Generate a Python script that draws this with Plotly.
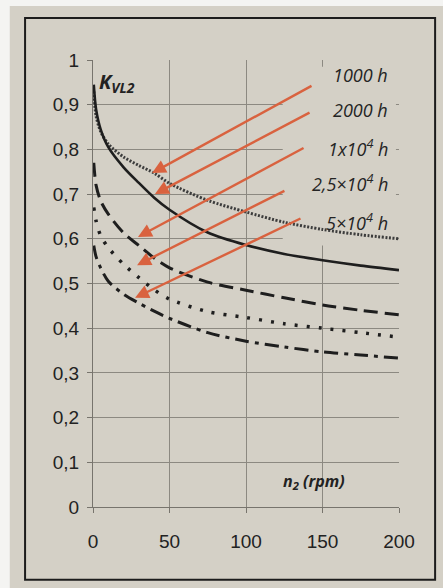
import plotly.graph_objects as go

# ---- data ----
n_rpm = [0.5, 2, 5, 10, 20, 30, 40, 50, 75, 100, 125, 150, 175, 200]

k_1000h = [0.93, 0.875, 0.84, 0.812, 0.783, 0.764, 0.747, 0.724, 0.686, 0.66, 0.637, 0.621, 0.609, 0.60]
k_2000h = [0.945, 0.89, 0.845, 0.805, 0.76, 0.725, 0.692, 0.665, 0.614, 0.586, 0.566, 0.552, 0.54, 0.53]
k_1e4h = [0.77, 0.72, 0.685, 0.655, 0.613, 0.585, 0.557, 0.535, 0.503, 0.485, 0.468, 0.452, 0.44, 0.43]
k_25e4h = [0.67, 0.64, 0.607, 0.58, 0.543, 0.513, 0.486, 0.465, 0.437, 0.424, 0.41, 0.40, 0.39, 0.38]
k_5e4h = [0.585, 0.56, 0.535, 0.505, 0.476, 0.456, 0.438, 0.422, 0.39, 0.371, 0.358, 0.347, 0.34, 0.333]

series_labels = ["1000 h", "2000 h", "1x10<sup>4</sup> h", "2,5×10<sup>4</sup> h", "5×10<sup>4</sup> h"]
label_y = [0.966, 0.888, 0.803, 0.725, 0.638]

# arrow tails (n, K) and heads (n, K)
arrow_tail_n = [143.8, 142.5, 138.6, 126.1, 136.6]
arrow_tail_k = [0.944, 0.884, 0.805, 0.709, 0.647]
arrow_head_n = [38.6, 40.5, 29.4, 28.8, 27.5]
arrow_head_k = [0.747, 0.700, 0.604, 0.541, 0.468]

x_ticks = [0, 50, 100, 150, 200]
x_ticktext = ["0", "50", "100", "150", "200"]
y_ticks = [0, 0.1, 0.2, 0.3, 0.4, 0.5, 0.6, 0.7, 0.8, 0.9, 1.0]
y_ticktext = ["0", "0,1", "0,2", "0,3", "0,4", "0,5", "0,6", "0,7", "0,8", "0,9", "1"]

BG = "#d4d0c6"
INK = "#1e1e1e"
ARROW = "#d9623f"

fig = go.Figure()

styles = [
    (k_1000h, dict(color="#3c3c3c", width=3, dash="2px,1.6px")),
    (k_2000h, dict(color=INK, width=2.6, dash="solid")),
    (k_1e4h, dict(color=INK, width=3, dash="14px,7px")),
    (k_25e4h, dict(color=INK, width=3.5, dash="3px,9px")),
    (k_5e4h, dict(color=INK, width=3, dash="14px,6px,4px,6px")),
]
for vals, ln in styles:
    fig.add_trace(go.Scatter(x=n_rpm, y=vals, mode="lines",
                             line=dict(shape="spline", smoothing=0.8, **ln),
                             showlegend=False, hoverinfo="skip"))

annotations = []
for lab, ly in zip(series_labels, label_y):
    annotations.append(dict(x=194, y=ly, xref="x", yref="y", text="<i>" + lab + "</i>",
                            showarrow=False, xanchor="right", yanchor="middle",
                            font=dict(family="Open Sans", size=18, color="#242424")))
for tn, tk, hn, hk in zip(arrow_tail_n, arrow_tail_k, arrow_head_n, arrow_head_k):
    annotations.append(dict(x=hn, y=hk, xref="x", yref="y", ax=tn, ay=tk,
                            axref="x", ayref="y", text="", showarrow=True,
                            arrowhead=2, arrowsize=1.15, arrowwidth=2.4,
                            arrowcolor=ARROW, standoff=0))
annotations.append(dict(x=2.6, y=0.95, xref="x", yref="y",
                        text="<b><i>K<sub>VL2</sub></i></b>", showarrow=False,
                        xanchor="left", yanchor="middle",
                        font=dict(family="Open Sans", size=20, color="#222222")))
annotations.append(dict(x=123, y=0.056, xref="x", yref="y",
                        text="<b><i>n<sub>2</sub> (rpm)</i></b>", showarrow=False,
                        xanchor="left", yanchor="middle",
                        font=dict(family="Open Sans", size=16, color="#222222")))

shapes = [
    # opaque text box behind the labels (covers gridlines, under curves)
    dict(type="rect", xref="x", yref="y", x0=124, x1=198, y0=0.585, y1=0.985,
         fillcolor=BG, line=dict(width=0), layer="between"),
    # outer frame
    dict(type="rect", xref="paper", yref="paper", x0=-0.222, x1=1.118, y0=-0.163, y1=1.094,
         line=dict(color="#1c1c1c", width=2), fillcolor="rgba(0,0,0,0)", layer="above"),
    # white photo edges
    dict(type="rect", xref="paper", yref="paper", x0=-0.31, x1=-0.272, y0=-0.19, y1=1.14,
         fillcolor="#f4f4f2", line=dict(width=0), layer="below"),
    dict(type="rect", xref="paper", yref="paper", x0=-0.31, x1=1.2, y0=1.121, y1=1.14,
         fillcolor="#f4f4f2", line=dict(width=0), layer="below"),
]

fig.update_layout(
    width=443, height=588,
    margin=dict(l=93, r=44, t=60, b=81),
    paper_bgcolor=BG, plot_bgcolor=BG,
    annotations=annotations, shapes=shapes,
    showlegend=False,
)
fig.update_xaxes(range=[0, 200], tickvals=x_ticks, ticktext=x_ticktext,
                 showgrid=True, gridcolor="#8c8981", gridwidth=1,
                 showline=True, linecolor="#77746d", linewidth=1, zeroline=False,
                 ticks="outside", ticklen=5, tickcolor="#77746d",
                 ticklabelstandoff=12,
                 tickfont=dict(family="Liberation Sans", size=19, color="#222222"))
fig.update_yaxes(range=[0, 1], tickvals=y_ticks, ticktext=y_ticktext,
                 showgrid=True, gridcolor="#8c8981", gridwidth=1,
                 showline=True, linecolor="#77746d", linewidth=1, zeroline=False,
                 ticks="outside", ticklen=5, tickcolor="#77746d",
                 ticklabelstandoff=4,
                 tickfont=dict(family="Liberation Sans", size=19, color="#222222"))

fig.write_html("out.html", config={"displayModeBar": False},
               post_script="document.body.style.margin='0';document.body.style.background='%s';" % BG)
